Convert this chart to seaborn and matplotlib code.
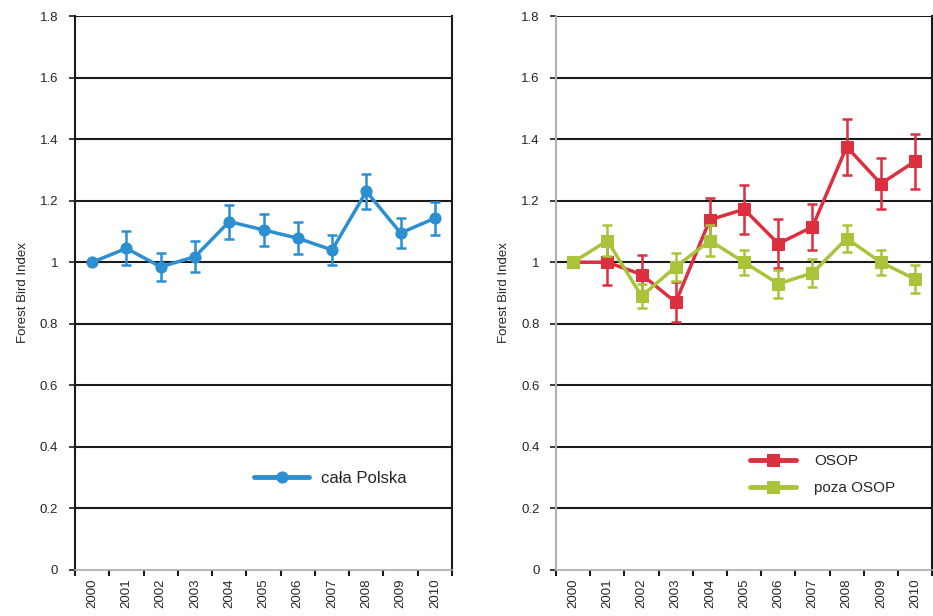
import numpy as np
import pandas as pd
import seaborn as sns
import matplotlib.pyplot as plt

# data
years = ['2000', '2001', '2002', '2003', '2004', '2005', '2006', '2007', '2008', '2009', '2010']

polska = [1.0, 1.045, 0.985, 1.018, 1.132, 1.105, 1.078, 1.04, 1.23, 1.095, 1.143]
polska_err = [0.0, 0.055, 0.045, 0.05, 0.055, 0.052, 0.052, 0.048, 0.056, 0.05, 0.053]

osop = [1.0, 1.0, 0.96, 0.87, 1.138, 1.172, 1.06, 1.115, 1.375, 1.255, 1.328]
osop_err = [0.0, 0.075, 0.065, 0.065, 0.07, 0.08, 0.08, 0.075, 0.09, 0.083, 0.09]

poza = [1.0, 1.07, 0.89, 0.985, 1.07, 1.0, 0.93, 0.965, 1.077, 1.0, 0.945]
poza_err = [0.0, 0.05, 0.04, 0.045, 0.05, 0.04, 0.045, 0.045, 0.045, 0.04, 0.045]

y_ticks = [0, 0.2, 0.4, 0.6, 0.8, 1.0, 1.2, 1.4, 1.6, 1.8]
y_labels = ['0', '0.2', '0.4', '0.6', '0.8', '1', '1.2', '1.4', '1.6', '1.8']

BLUE = '#2b8fd2'
RED = '#dc2f3f'
GREEN = '#a9c43b'

sns.set_style("white")
plt.rcParams['font.family'] = ['Liberation Sans', 'DejaVu Sans']

fig = plt.figure(figsize=(9.33, 6.16), dpi=100)
ax1 = fig.add_axes([0.0804, 0.0747, 0.4041, 0.8993])
ax2 = fig.add_axes([0.596, 0.0747, 0.4031, 0.8993])


def draw_series(ax, vals, errs, color, marker, label):
    df = pd.DataFrame({'x': np.arange(len(years)), 'y': vals})
    sns.lineplot(data=df, x='x', y='y', ax=ax, color=color, linewidth=2.5,
                 marker=marker, markersize=8, markeredgecolor=color,
                 label=label, zorder=4)
    ax.errorbar(df['x'], df['y'], yerr=errs, fmt='none', ecolor=color,
                elinewidth=1.8, capsize=3.5, capthick=1.8, zorder=4)


def style_axes(ax, left_color):
    ax.set_xlim(-0.5, len(years) - 0.5)
    ax.set_ylim(0, 1.8)
    for yv in y_ticks[1:]:
        ax.axhline(yv, color='#1a1a1a', linewidth=1.5, zorder=1)
    ax.set_yticks(y_ticks)
    ax.set_yticklabels(y_labels, fontsize=9.5)
    # boundary ticks (no labels) and centred year labels
    ax.set_xticks(np.arange(-0.5, len(years), 1.0))
    ax.set_xticklabels([])
    ax.set_xticks(np.arange(len(years)), minor=True)
    ax.set_xticklabels(years, minor=True, rotation=90, fontsize=9.5)
    ax.tick_params(axis='x', which='major', direction='out', length=4,
                   width=1.5, color='#1a1a1a', bottom=True)
    ax.tick_params(axis='x', which='minor', length=0, pad=6, bottom=True)
    ax.tick_params(axis='y', direction='out', length=4, width=1.2,
                   color='#1a1a1a', left=True, pad=8)
    ax.spines['left'].set_color(left_color)
    ax.spines['left'].set_linewidth(1.5)
    ax.spines['right'].set_color('#1a1a1a')
    ax.spines['right'].set_linewidth(1.5)
    ax.spines['bottom'].set_color('#aaaaaa')
    ax.spines['bottom'].set_linewidth(1.2)
    ax.spines['top'].set_visible(False)
    ax.set_xlabel('')
    ax.set_ylabel('Forest Bird Index', fontsize=9.5, labelpad=8)


draw_series(ax1, polska, polska_err, BLUE, 'o', 'cała Polska')
style_axes(ax1, '#1a1a1a')
leg1 = ax1.legend(loc='center left', bbox_to_anchor=(0.475, 0.166), frameon=False,
                  fontsize=12, handlelength=3.3, handletextpad=0.7,
                  borderpad=0, borderaxespad=0)
for h in leg1.get_lines():
    h.set_linewidth(3.5)

draw_series(ax2, osop, osop_err, RED, 's', 'OSOP')
draw_series(ax2, poza, poza_err, GREEN, 's', 'poza OSOP')
style_axes(ax2, '#b0b0b0')
leg2 = ax2.legend(loc='center left', bbox_to_anchor=(0.515, 0.172), frameon=False,
                  fontsize=11, handlelength=3.0, handletextpad=1.2,
                  borderpad=0, borderaxespad=0, labelspacing=0.85)
for h in leg2.get_lines():
    h.set_linewidth(3.5)

fig.savefig('out.png', dpi=100)
